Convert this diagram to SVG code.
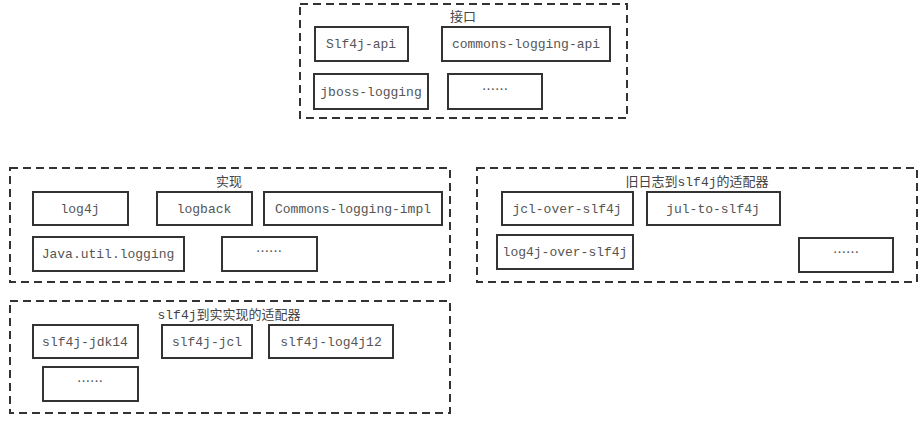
<svg xmlns="http://www.w3.org/2000/svg" width="924" height="424" viewBox="0 0 924 424">
<style>
.grp{fill:none;stroke:#333;stroke-width:2;stroke-dasharray:8,5}
.box{fill:#fff;stroke:#333;stroke-width:2}
text{font-family:"Liberation Mono","Noto Sans CJK SC",monospace;font-size:13px;fill:#555;text-anchor:middle}
.t{font-size:13px;fill:#444}
.e{font-family:"Noto Sans CJK SC",sans-serif;font-size:13px}
</style>
<rect width="924" height="424" fill="#fff"/>
<g id="interface">
<rect class="grp" x="300" y="4" width="327" height="114"/>
<text class="t" x="463" y="21">接口</text>
</g>
<g id="slf4j-api"><rect class="box" x="315" y="27" width="93" height="34"/><text x="361" y="48">Slf4j-api</text></g>
<g id="commons-logging-api"><rect class="box" x="442" y="27" width="168" height="34"/><text x="526" y="48">commons-logging-api</text></g>
<g id="jboss-logging"><rect class="box" x="314" y="74" width="114" height="35"/><text x="371" y="96">jboss-logging</text></g>
<g id="iface-more"><rect class="box" x="448" y="74" width="94" height="35"/><text class="e" x="495" y="94">……</text></g>

<g id="impl">
<rect class="grp" x="10" y="168" width="440" height="114"/>
<text class="t" x="229" y="186">实现</text>
</g>
<g id="log4j"><rect class="box" x="33" y="192" width="95" height="33"/><text x="80" y="213">log4j</text></g>
<g id="logback"><rect class="box" x="157" y="192" width="95" height="33"/><text x="204" y="213">logback</text></g>
<g id="commons-logging-impl"><rect class="box" x="264" y="192" width="178" height="33"/><text x="353" y="213">Commons-logging-impl</text></g>
<g id="jul"><rect class="box" x="33" y="237" width="151" height="34"/><text x="108" y="258">Java.util.logging</text></g>
<g id="impl-more"><rect class="box" x="222" y="237" width="95" height="34"/><text class="e" x="269" y="256">……</text></g>

<g id="bridge">
<rect class="grp" x="477" y="168" width="440" height="114"/>
<text class="t" x="697" y="186">旧日志到slf4j的适配器</text>
</g>
<g id="jcl-over-slf4j"><rect class="box" x="502" y="192" width="131" height="33"/><text x="567" y="213">jcl-over-slf4j</text></g>
<g id="jul-to-slf4j"><rect class="box" x="647" y="192" width="133" height="33"/><text x="713" y="213">jul-to-slf4j</text></g>
<g id="log4j-over-slf4j"><rect class="box" x="497" y="235" width="136" height="34"/><text x="565" y="256">log4j-over-slf4j</text></g>
<g id="bridge-more"><rect class="box" x="799" y="238" width="94" height="34"/><text class="e" x="846" y="257">……</text></g>

<g id="binding">
<rect class="grp" x="10" y="301" width="440" height="112"/>
<text class="t" x="229" y="319">slf4j到实实现的适配器</text>
</g>
<g id="slf4j-jdk14"><rect class="box" x="33" y="325" width="105" height="33"/><text x="85" y="346">slf4j-jdk14</text></g>
<g id="slf4j-jcl"><rect class="box" x="162" y="325" width="90" height="33"/><text x="207" y="346">slf4j-jcl</text></g>
<g id="slf4j-log4j12"><rect class="box" x="269" y="325" width="124" height="33"/><text x="331" y="346">slf4j-log4j12</text></g>
<g id="binding-more"><rect class="box" x="43" y="367" width="95" height="34"/><text class="e" x="90" y="386">……</text></g>
<g id="connectors"></g>
</svg>
